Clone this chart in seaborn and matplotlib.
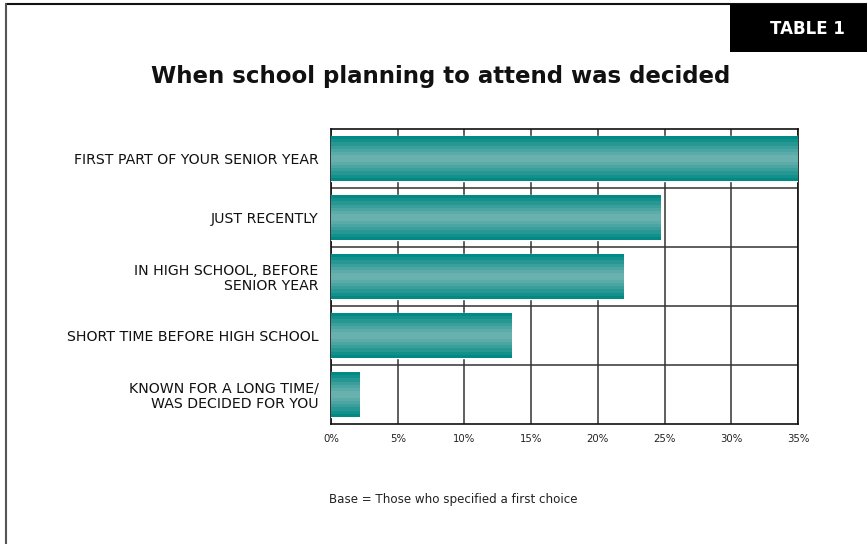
import numpy as np
import matplotlib
matplotlib.use("Agg")
import matplotlib.pyplot as plt
from matplotlib.patches import Rectangle
from matplotlib.colors import to_rgb
import seaborn as sns
import pandas as pd

categories = [
    "FIRST PART OF YOUR SENIOR YEAR",
    "JUST RECENTLY",
    "IN HIGH SCHOOL, BEFORE\nSENIOR YEAR",
    "SHORT TIME BEFORE HIGH SCHOOL",
    "KNOWN FOR A LONG TIME/\nWAS DECIDED FOR YOU",
]
percent = [35.0, 24.7, 21.9, 13.5, 2.1]
x_ticks = [0, 5, 10, 15, 20, 25, 30, 35]
x_tick_labels = ["0%", "5%", "10%", "15%", "20%", "25%", "30%", "35%"]

title = "When school planning to attend was decided"
badge = "TABLE 1"
footnote = "Base = Those who specified a first choice"

sns.set_theme(style="white")
plt.rcParams["font.family"] = ["DejaVu Sans"]

df = pd.DataFrame({"category": categories, "percent": percent})

W, H = 867, 544
fig = plt.figure(figsize=(W / 100, H / 100), dpi=100)
fig.patch.set_facecolor("white")

ax = fig.add_axes([331 / W, 1 - 424 / H, (798 - 331) / W, (424 - 129) / H])

teal = "#008985"
light = "#6fb3b0"
sns.barplot(data=df, x="percent", y="category", orient="h", color=teal,
            width=0.75, saturation=1, ax=ax, zorder=3)

# banded teal shading across each bar: dark at the edges, light in the middle
levels = 14
t = np.linspace(-1, 1, levels)
w = 1 - np.abs(t) ** 1.2
c0, c1 = np.array(to_rgb(teal)), np.array(to_rgb(light))
shade = (c0[None, :] * (1 - w[:, None]) + c1[None, :] * w[:, None])[:, None, :]
for p in ax.patches:
    x0, y0 = p.get_x(), p.get_y()
    bw, bh = p.get_width(), p.get_height()
    im = ax.imshow(shade, extent=(x0, x0 + bw, y0 + bh, y0), aspect="auto",
                   interpolation="nearest", zorder=4)
    im.set_clip_path(p)

ax.set_xlim(0, 35)
ax.set_ylim(len(categories) - 0.5, -0.5)
ax.set_xticks(x_ticks)
ax.set_xticklabels(x_tick_labels, fontsize=7.3, color="#222222")
ax.set_yticks(range(len(categories)))
ax.set_yticklabels(categories, fontsize=10.2, color="#111111", linespacing=1.1)
ax.set_yticks(np.arange(0.5, len(categories) - 0.5, 1), minor=True)
ax.set_xlabel("")
ax.set_ylabel("")
ax.tick_params(axis="x", length=0, pad=7)
ax.tick_params(axis="y", which="both", length=0, pad=9)

ax.grid(False)
ax.xaxis.grid(True, which="major", color="#333333", linewidth=1.1, zorder=1)
ax.yaxis.grid(True, which="minor", color="#333333", linewidth=1.1, zorder=1)
ax.set_axisbelow(True)
for s in ax.spines.values():
    s.set_visible(True)
    s.set_color("#111111")
    s.set_linewidth(1.2)

# title
fig.text(441 / W, 1 - 77 / H, title, ha="center", va="center",
         fontsize=16.5, fontweight="bold", color="#111111")

# footnote
fig.text(329 / W, 1 - 499 / H, footnote, ha="left", va="center",
         fontsize=8.6, color="#222222")

# badge in the top-right corner
fig.patches.append(Rectangle((730 / W, 1 - 52 / H), (W - 730) / W, 48 / H,
                             transform=fig.transFigure, facecolor="black",
                             edgecolor="none", zorder=5))
fig.text(807 / W, 1 - 29 / H, badge, ha="center", va="center",
         fontsize=12, fontweight="bold", color="white", zorder=6)

# page frame: top and left rules
fig.add_artist(plt.Line2D([6 / W, 1], [1 - 4 / H, 1 - 4 / H],
                          transform=fig.transFigure, color="#111111", linewidth=1.5))
fig.add_artist(plt.Line2D([6 / W, 6 / W], [0, 1 - 4 / H],
                          transform=fig.transFigure, color="#555555", linewidth=1.5))

fig.savefig("out.png", dpi=100, facecolor="white")
